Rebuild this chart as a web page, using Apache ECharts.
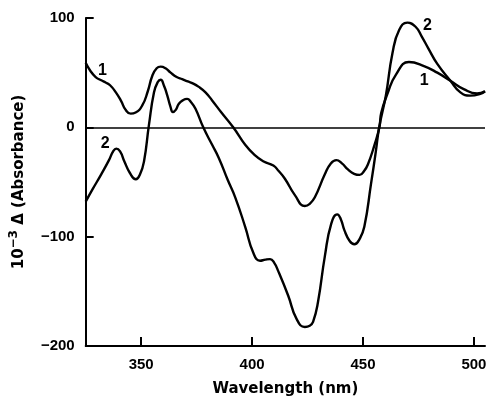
<!DOCTYPE html>
<html>
<head>
<meta charset="utf-8">
<script src="https://cdn.jsdelivr.net/npm/echarts@6/dist/echarts.min.js"></script>
<style>
  html, body { margin: 0; padding: 0; background: #fff; }
  #chart { width: 490px; height: 402px; }
</style>
</head>
<body>
<div id="chart"></div>
<script>
// wavelength (nm) / 10^-3 delta absorbance
const wave1 = [325, 327, 329.5, 332, 334, 336, 338.6, 341, 343, 345.3, 347.5, 350.5, 353, 355, 357, 358.8, 361, 363.3, 366, 368.5, 371, 373, 376, 379, 382, 386, 391.5, 396.9, 401, 405, 409.6, 412, 414.8, 419.3, 423.8, 426, 428.3, 432.8, 435.5, 438, 440.5, 443.2, 446, 448.5, 450.5, 452.2, 455.2, 457.4, 458.2, 461.1, 464.8, 470.7, 477.5, 483.5, 489.4, 495.4, 501.4, 505];
const curve1 = [59, 52, 46, 43, 41, 38.5, 32, 24, 16, 12.5, 13.5, 20, 33, 47, 54, 55.5, 54, 50, 46, 44, 42, 40.5, 37, 32, 24.6, 14, 0, -16, -25, -31, -35, -40, -47, -62, -72, -70, -64, -43, -33, -30, -33, -38.5, -42.5, -43.5, -40, -34, -16, 0, 13, 31, 48, 59.7, 56, 50, 42.6, 35, 31, 33];

const wave2 = [325, 328, 332, 335.5, 337.5, 338.8, 340.5, 342.4, 345, 347.6, 349.5, 351.3, 353.5, 355.8, 357.5, 358.8, 360.3, 361.8, 363.2, 364.3, 365.6, 367, 369, 370.7, 372.5, 374.5, 378, 382, 385, 389, 392.4, 396.9, 400.6, 403.6, 406, 408.1, 410, 411.8, 416.3, 420, 423.8, 426, 427.5, 429.7, 432.8, 435.7, 438.4, 440, 441.6, 444, 446.1, 448.5, 450.6, 453.6, 455.8, 457.3, 460.3, 463.3, 466.3, 470, 473.7, 476.5, 479.5, 483.5, 489.4, 493.9, 498.4, 502.9, 505];
const curve2 = [-68, -57, -43, -30, -21.5, -19.5, -22, -31, -42, -47.5, -43, -31, 2, 32, 41.5, 43.5, 38, 29, 19, 14, 16, 21.6, 25, 26, 23, 17, 0, -16, -28, -48, -64, -91, -115, -122, -121, -120.5, -124, -131.5, -154, -175, -182.6, -181.5, -178, -160, -118, -88, -79.6, -84, -94, -104, -107, -102, -91, -52, -22, 0, 29, 68, 89, 95.8, 92, 83, 72, 58, 42.6, 32, 29, 30.6, 33];

const xTicks = [350, 400, 450, 500];
const yTicks = [-200, -100, 0, 100];

// where the curve numbers sit (data units)
const tags1 = [[332.5, 51.5], [477.6, 42.5]];
const tags2 = [[333.8, -15], [479.1, 93.5]];

const chart = echarts.init(document.getElementById('chart'));

const pairs = (xs, ys) => xs.map((x, i) => [x, ys[i]]);
const tagPoints = (list, text) => list.map(p => ({coord: p, value: text}));

const labelFont = {
  color: '#000',
  fontFamily: 'Liberation Sans',
  fontWeight: 'bold',
  fontSize: 15
};

const tagStyle = {
  symbol: 'circle',
  symbolSize: 0,
  silent: true,
  label: Object.assign({show: true, position: 'inside', formatter: '{c}'}, labelFont, {fontSize: 16})
};

chart.setOption({
  backgroundColor: '#fff',
  animation: false,
  grid: {left: 83, right: 5, top: 18, bottom: 51},
  xAxis: {
    type: 'value',
    min: 325,
    max: 505,
    name: 'Wavelength (nm)',
    nameLocation: 'middle',
    nameGap: 36,
    nameTextStyle: {color: '#000', fontFamily: 'DejaVu Sans', fontWeight: 'bold', fontSize: 15},
    axisLine: {onZero: false, lineStyle: {color: '#000', width: 2}},
    axisTick: {inside: true, length: 9, customValues: xTicks, lineStyle: {color: '#000', width: 2}},
    axisLabel: Object.assign({margin: 11, customValues: xTicks}, labelFont),
    splitLine: {show: false}
  },
  yAxis: {
    type: 'value',
    min: -200,
    max: 100,
    interval: 100,
    name: '10{sup|−3} Δ (Absorbance)',
    nameLocation: 'middle',
    nameGap: 54,
    nameTextStyle: {
      color: '#000', fontFamily: 'DejaVu Sans', fontWeight: 'bold', fontSize: 15, lineHeight: 22,
      rich: {
        sup: {color: '#000', fontFamily: 'DejaVu Sans', fontWeight: 'bold', fontSize: 12, lineHeight: 12, verticalAlign: 'top'}
      }
    },
    axisLine: {show: true, lineStyle: {color: '#000', width: 2}},
    axisTick: {inside: true, length: 8, customValues: yTicks, lineStyle: {color: '#000', width: 2}},
    axisLabel: Object.assign({
      margin: 11,
      formatter: v => String(v).replace('-', '\u2212')
    }, labelFont),
    splitLine: {show: false}
  },
  series: [
    {
      name: '1',
      type: 'line',
      data: pairs(wave1, curve1),
      smooth: 0.5,
      showSymbol: false,
      lineStyle: {color: '#000', width: 2.4},
      markLine: {
        silent: true,
        symbol: 'none',
        label: {show: false},
        lineStyle: {color: '#000', width: 1.5, type: 'solid'},
        data: [{yAxis: 0}]
      },
      markPoint: Object.assign({data: tagPoints(tags1, '1')}, tagStyle)
    },
    {
      name: '2',
      type: 'line',
      data: pairs(wave2, curve2),
      smooth: 0.5,
      showSymbol: false,
      lineStyle: {color: '#000', width: 2.4},
      markPoint: Object.assign({data: tagPoints(tags2, '2')}, tagStyle)
    }
  ]
});
</script>
</body>
</html>
